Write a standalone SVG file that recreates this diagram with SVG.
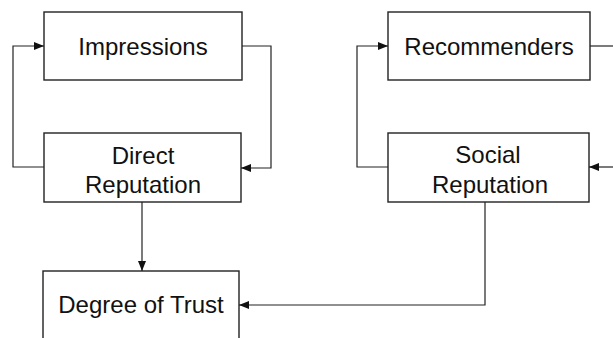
<svg xmlns="http://www.w3.org/2000/svg" width="613" height="338" viewBox="0 0 613 338">
<style>
.box{fill:#fff;stroke:#222;stroke-width:1.4}
.lbl{font-family:"Liberation Sans",Arial,sans-serif;font-size:24px;fill:#111;text-anchor:middle}
.con{fill:none;stroke:#222;stroke-width:1.2}
</style>
<defs>
<marker id="ah" viewBox="0 0 10 8" refX="10" refY="4" markerWidth="10" markerHeight="8" markerUnits="userSpaceOnUse" orient="auto">
<path d="M0,0 L10,4 L0,8 Z" fill="#111"/>
</marker>
</defs>
<rect width="613" height="338" fill="#fff"/>
<g id="impressions">
<rect class="box" x="44" y="12" width="198" height="68"/>
<text class="lbl" x="143" y="55">Impressions</text>
</g>
<g id="direct-reputation">
<rect class="box" x="44" y="133" width="197" height="69"/>
<text class="lbl" x="143" y="164">Direct</text>
<text class="lbl" x="143" y="193">Reputation</text>
</g>
<g id="recommenders">
<rect class="box" x="388" y="12" width="202" height="68"/>
<text class="lbl" x="489" y="55">Recommenders</text>
</g>
<g id="social-reputation">
<rect class="box" x="388" y="133" width="201" height="69"/>
<text class="lbl" x="488" y="163">Social</text>
<text class="lbl" x="490" y="193">Reputation</text>
</g>
<g id="degree-of-trust">
<rect class="box" x="43" y="271" width="196" height="80"/>
<text class="lbl" x="141" y="313">Degree of Trust</text>
</g>
<g id="connectors">
<path class="con" d="M44,167 H13 V46 H44" marker-end="url(#ah)"/>
<path class="con" d="M242,46 H271 V168 H241" marker-end="url(#ah)"/>
<path class="con" d="M388,167 H357 V46 H388" marker-end="url(#ah)"/>
<path class="con" d="M590,46 H613"/>
<path class="con" d="M613,167 H589" marker-end="url(#ah)"/>
<path class="con" d="M142,202 V271" marker-end="url(#ah)"/>
<path class="con" d="M485,202 V305 H239" marker-end="url(#ah)"/>
</g>
</svg>
